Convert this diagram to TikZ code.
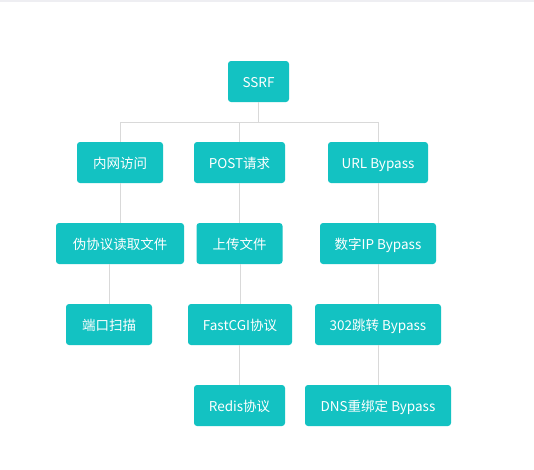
\documentclass[tikz,border=0pt]{standalone}
\usepackage{fontspec}
\setmainfont{Noto Sans CJK SC}
\definecolor{teal1}{HTML}{13C2C2}
\definecolor{edgegray}{HTML}{D9D9D9}
\definecolor{topgray}{HTML}{EEEEF2}
\begin{document}
\begin{tikzpicture}[x=1pt,y=-1pt,
  box/.style={fill=teal1, text=white, rounded corners=3pt, minimum height=41pt, inner sep=0pt, text height=12pt, text depth=1pt, font=\fontsize{13.5pt}{15pt}\selectfont},
  conn/.style={draw=edgegray, line width=1pt}]
\useasboundingbox (0,0) rectangle (534,469);
\fill[topgray] (0,0) rectangle (534,1.5);
% row 1
\node[box, minimum width=61pt] (ssrf) at (258.5,81.5) {SSRF};
% row 2
\node[box, minimum width=86pt] (nw) at (120,162.5) {内网访问};
\node[box, minimum width=91pt] (post) at (239.5,162.5) {POST请求};
\node[box, minimum width=100pt] (url) at (378,162.5) {URL Bypass};
% row 3
\node[box, minimum width=128pt] (wxy) at (120,243.5) {伪协议读取文件};
\node[box, minimum width=86pt] (sc) at (239.5,243.5) {上传文件};
\node[box, minimum width=116pt] (ip) at (378,243.5) {数字IP Bypass};
% row 4
\node[box, minimum width=86pt] (dk) at (109,324.5) {端口扫描};
\node[box, minimum width=104pt] (fcgi) at (240,324.5) {FastCGI协议};
\node[box, minimum width=126pt] (jz) at (378,324.5) {302跳转 Bypass};
% row 5
\node[box, minimum width=91pt] (redis) at (239.5,405.5) {Redis协议};
\node[box, minimum width=146pt] (dns) at (378,405.5) {DNS重绑定 Bypass};
% connectors
\coordinate (j) at (258.5,122);
\draw[conn] (ssrf.south) -- (j);
\draw[conn] (j) -| (nw.north);
\draw[conn] (j) -| (post.north);
\draw[conn] (j) -| (url.north);
\draw[conn] (nw.south) -- (wxy.north);
\draw[conn] (post.south) -- (sc.north);
\draw[conn] (url.south) -- (ip.north);
\draw[conn] (wxy.south -| dk.north) -- (dk.north);
\draw[conn] (sc.south -| fcgi.north) -- (fcgi.north);
\draw[conn] (ip.south) -- (jz.north);
\draw[conn] (fcgi.south -| redis.north) -- (redis.north);
\draw[conn] (jz.south) -- (dns.north);
\end{tikzpicture}
\end{document}
